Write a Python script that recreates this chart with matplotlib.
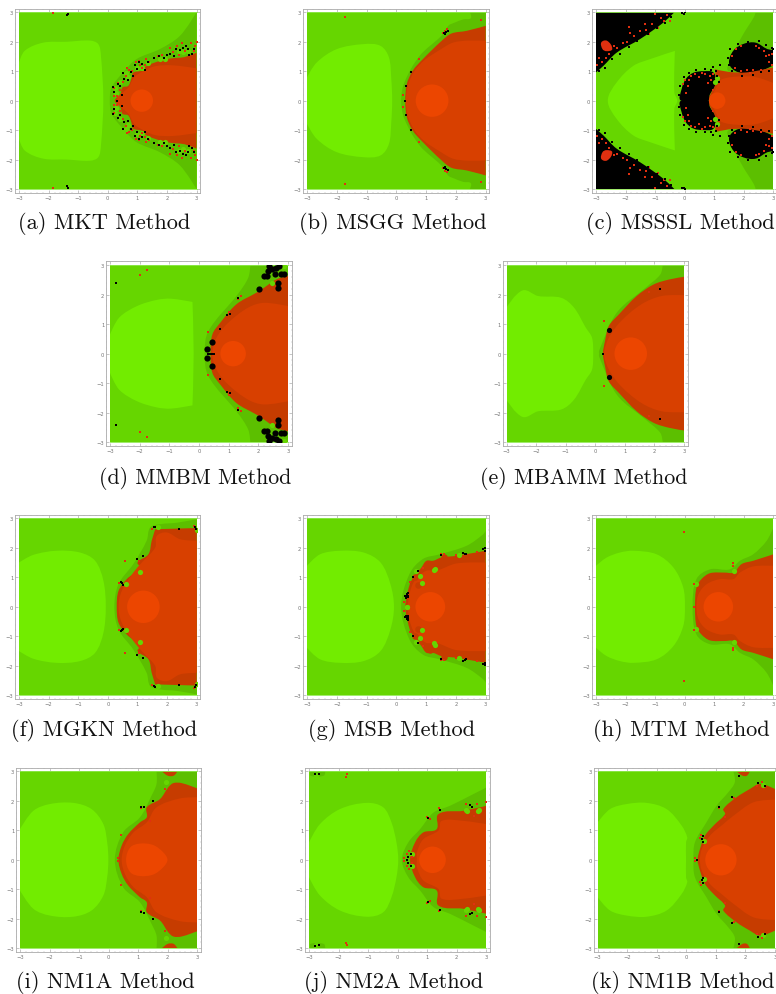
import math
import matplotlib
matplotlib.use("Agg")
import matplotlib.pyplot as plt
from matplotlib.path import Path
from matplotlib.patches import PathPatch, Rectangle

W, H = 776, 995

BRIGHT = "#72ec00"
MID = "#66d600"
DARK = "#5cbf00"
RED_D = "#c63c00"
RED_M = "#d84000"
RED_C = "#ec4600"
SPECK_R = "#e03010"

ticks = [-3, -2, -1, 0, 1, 2, 3]

# (a) MKT
a_bright = [(-3, 0), (-3, 1.3), (-2.8, 1.7), (-2.18, 1.97), (-1.39, 2.0), (-0.6, 2.04), (-0.32, 1.92), (-0.23, 1.52), (-0.15, 0)]
a_dark = [(3, 3), (2.44, 2.2), (1.76, 1.75), (0.97, 1.41), (0.52, 0.96), (0.13, 0.45), (0.07, 0)]
a_red = [(0.24, 0), (0.42, 0.2), (0.5, 0.45), (0.69, 0.5), (0.8, 0.75), (0.86, 0.95), (1.15, 1.02), (1.31, 1.18), (1.76, 1.35), (2.05, 1.42), (2.3, 1.45), (2.6, 1.48), (3, 1.63)]
a_inner = [(0.3, 0), (0.7, 0.45), (0.9, 0.8), (1.2, 1.0), (1.6, 1.17), (2.2, 1.2), (3, 1.1)]
a_core = (1.15, 0.38)
a_black = [(0.3, 0), (0.43, 0.5), (0.22, 0.28), (0.78, 0.97), (0.87, 0.85), (0.55, 0.72), (0.93, 1.2), (1.15, 1.25), (0.98, 1.08), (1.9, 1.45), (2.3, 1.75), (2.7, 1.75), (2.65, 1.85), (2.85, 1.6), (0.47, 0.18), (1.35, 1.3), (2.1, 1.6), (2.45, 1.72),
           (0.18, 0.45), (0.35, 0.58), (0.5, 0.95), (0.7, 0.7), (1.05, 1.3), (1.25, 1.05), (1.55, 1.45), (1.72, 1.52), (2.0, 1.55), (2.25, 1.5), (2.55, 1.8), (2.75, 1.55), (2.9, 1.75), (-1.35, 2.95), (-1.38, 2.9)]
a_specks = [(0.2, 0.42), (0.33, 0.6), (0.6, 0.85), (0.72, 1.05), (1.05, 1.33), (1.3, 1.4), (1.7, 1.5), (2.1, 1.8), (2.5, 1.95), (2.8, 1.95), (3, 2.0), (1.15, 1.1), (0.95, 1.3), (0.3, 0.15), (2.4, 1.55), (2.9, 1.7), (-1.85, 2.97),
            (0.2, 0.15), (0.42, 0.35), (0.5, 0.62), (0.82, 1.0), (1.1, 1.2), (1.4, 1.32), (1.85, 1.55), (2.2, 1.65), (2.35, 1.85), (2.62, 1.7), (2.95, 1.85), (0.65, 1.1), (1.25, 1.22)]
a_lobes = [(0.27, 0.25), (0.25, 0.42), (0.42, 0.62), (0.7, 0.82), (0.62, 0.95), (1.15, 1.1), (1.0, 1.12), (1.35, 1.28), (1.95, 1.42), (1.75, 1.4), (2.55, 1.65), (2.4, 1.7), (2.7, 1.7)]

# (b) MSGG
b_bright = [(-3, 0), (-3, 0.79), (-2.67, 1.3), (-2, 1.75), (-1.1, 1.92), (-0.53, 1.86), (-0.25, 1.47), (-0.17, 0.73), (-0.14, 0)]
b_dark = [(3, 3), (2.47, 3), (2.5, 2.8), (2.25, 2.76), (1.96, 2.65), (1.75, 2.55), (1.51, 2.2), (0.78, 1.52), (0.27, 0.62), (0.16, 0)]
b_red = [(0.3, 0), (0.35, 0.56), (0.55, 1.02), (0.89, 1.41), (1.52, 2.03), (1.85, 2.28), (2.36, 2.37), (3, 2.54)]
b_inner = [(0.32, 0), (0.4, 0.56), (0.62, 1.02), (0.95, 1.38), (1.5, 1.75), (1.9, 1.97), (2.4, 2.04), (3, 2.03)]
b_core = (1.2, 0.55)
b_black = [(0.3, 0), (1.6, 2.3), (1.75, 2.35), (1.62, 2.25), (0.5, 0.98), (0.34, 0.5), (1.68, 2.33)]
b_specks = [(1.7, 2.42), (1.55, 2.3), (2.85, 2.75), (-1.73, 2.83), (0.22, 0.2), (0.75, 1.4), (1.65, 2.38)]
b_lobes = []

# (c) MSSSL
c_bright = [(-2.6, 0), (-2.3, 0.62), (-1.74, 1.18), (-1.17, 1.41), (-0.33, 1.69), (-0.33, 1.69), (-0.35, 0.28), (-0.25, 0)]
c_dark = [(3, 3), (2.4, 3), (2.35, 2.85), (1.95, 2.2), (1.6, 1.5), (1.5, 1.0), (3, 1.0)]
c_red = [(0.83, 0), (0.85, 0.17), (1.02, 0.5), (1.05, 0.75), (1.02, 1.07), (1.02, 1.07), (1.47, 0.98), (2.1, 0.96), (3, 1.13)]
c_inner = [(0.9, 0), (1.1, 0.5), (1.25, 0.72), (1.8, 0.82), (2.4, 0.8), (3, 0.6)]
c_core = (1.1, 0.28)
c_corner = [(-3, 3), (-0.35, 3), (-0.72, 2.65), (-1.51, 2.09), (-2.3, 1.63), (-2.75, 1.18), (-3, 0.96)]
c_blob_l = [(-0.12, 0), (-0.1, 0.4), (0.05, 0.75), (0.3, 0.95), (0.65, 1.0), (0.98, 0.95), (1.05, 0.55), (0.85, 0.2), (0.82, 0)]
c_blob_r = [(1.5, 1.3), (1.65, 1.7), (2.0, 1.93), (2.4, 1.97), (2.8, 1.75), (3, 1.72), (3, 1.2), (2.8, 1.1), (2.4, 0.95), (2.0, 0.92), (1.65, 1.05)]
c_patch = [(-2.82, 1.98), (-2.62, 2.03), (-2.45, 1.75), (-2.65, 1.68), (-2.78, 1.75)]
c_black = [(0.95, 1.15), (1.2, 1.2), (1.05, 1.02), (3, 1.75), (1.5, 1.2),
           (-0.18, 0.2), (-0.16, 0.5), (-0.02, 0.82), (0.15, 0.95), (0.4, 1.05), (0.7, 1.08), (0.88, 1.05), (1.1, 0.85), (1.15, 0.65),
           (1.48, 1.45), (1.55, 1.75), (1.8, 1.92), (2.15, 2.0), (2.5, 2.02), (2.75, 1.88), (2.95, 1.78), (1.6, 1.0), (1.95, 0.85), (2.3, 0.88), (2.6, 0.98), (2.85, 1.02),
           (-2.9, 1.0), (-2.7, 1.1), (-2.45, 1.42), (-2.2, 1.6), (-1.9, 1.82), (-1.6, 2.02), (-1.25, 2.25), (-0.95, 2.48), (-0.65, 2.65), (-0.45, 2.85), (-0.1, 2.97), (-0.02, 2.95), (0, 3)]
c_specks = [(-2.9, 1.45), (-2.8, 1.3), (-2.65, 1.45), (-2.55, 1.6), (-2.3, 1.8), (-2.1, 1.95), (-1.95, 2.0), (-1.7, 2.2), (-1.5, 2.35), (-1.35, 2.6), (-1.1, 2.6), (-0.8, 2.8), (-0.6, 2.9), (-1.9, 2.5), (-0.7, 2.7), (-1.3, 2.4), (-1.85, 2.3), (-2.95, 1.2), (-1.0, 2.95), (-0.5, 2.7), (-2.4, 1.85), (-1.2, 2.25), (-0.9, 2.45),
            (0.1, 0.5), (0.2, 0.85), (0.5, 0.8), (0.7, 0.9), (0.8, 0.6), (0.95, 0.35), (0.05, 0.25), (-0.05, 0.55), (0.35, 0.9), (0.85, 0.85), (0.0, 0.7), (0.15, 0.7), (0.9, 0.7), (0.6, 0.95), (0.95, 0.9),
            (1.6, 1.5), (1.7, 1.1), (1.9, 1.0), (2.2, 0.95), (2.6, 1.05), (2.85, 1.3), (2.95, 1.6), (2.7, 1.7), (2.4, 1.85), (1.9, 1.85), (2.95, 1.2), (2.75, 1.5), (2.1, 1.05), (2.3, 1.03), (2.5, 1.8), (1.75, 1.75), (2.85, 1.55)]
c_lobes = [(1.02, 0.62), (1.08, 0.78)]

# (d) MMBM
d_bright = [(-3, 0), (-3, 0.65), (-2.69, 1.22), (-2.09, 1.61), (-1.42, 1.82), (-0.95, 1.86), (-0.22, 1.75), (-0.22, 1.75), (-0.18, 0)]
d_dark = [(3, 3), (1.73, 3), (1.66, 2.57), (1.3, 2.0), (0.32, 0.77), (0.19, 0)]
d_red = [(0.39, 0), (0.45, 0.65), (0.72, 1.05), (1.26, 1.67), (1.93, 2.06), (2.19, 2.23), (2.6, 2.51), (3, 2.63)]
d_inner = [(0.45, 0), (0.59, 0.54), (0.99, 1.05), (1.66, 1.56), (2.19, 1.72), (3, 1.61)]
d_core = (1.15, 0.43)
d_big = [(2.19, 2.63), (2.6, 2.9), (2.75, 2.7), (2.66, 2.23), (2.66, 2.4), (2.33, 2.8), (2.86, 2.68), (2.02, 2.18), (2.35, 2.95), (2.7, 2.95), (0.45, 0.41), (0.28, 0.15), (2.45, 2.85), (2.55, 2.7), (2.3, 2.62)]
d_black = [(1.32, 1.9), (1.06, 1.33), (0.72, 0.85), (-2.8, 2.4), (0.3, 0), (0.35, 0), (0.4, 0), (0.45, 0), (0.5, 0), (0.95, 1.3)]
d_specks = [(-1.75, 2.83), (1.3, 1.85), (1.4, 1.95), (1.0, 1.4), (0.3, 0.72), (-2.0, 2.65)]
d_lobes = [(2.45, 2.4), (2.85, 2.95), (2.5, 2.75)]

# (e) MBAMM
e_bright = [(-3, 0), (-3, 1.56), (-2.46, 2.14), (-1.93, 1.95), (-1.15, 1.89), (-0.72, 1.56), (-0.32, 0.88), (-0.11, 0.54), (-0.07, 0)]
e_dark = [(3, 3), (2.28, 3), (2.2, 2.68), (1.7, 2.23), (0.73, 1.39), (0.13, 0.1), (0.13, 0)]
e_red = [(0.26, 0), (0.33, 0.43), (0.46, 0.94), (0.8, 1.33), (1.4, 1.95), (1.97, 2.34), (2.5, 2.51), (3, 2.6)]
e_inner = [(0.3, 0), (0.46, 0.54), (0.87, 1.1), (1.56, 1.67), (2.24, 1.95), (3, 1.98)]
e_core = (1.2, 0.55)
e_big = [(0.46, 0.79)]
e_black = [(0.26, 0), (2.2, 2.2)]
e_specks = [(1.8, 2.1), (0.3, 1.1)]
e_lobes = []

# (f) MGKN
f_bright = [(-3, 0), (-3, 1.5), (-2.52, 1.76), (-1.73, 1.9), (-0.94, 1.84), (-0.43, 1.56), (-0.15, 0.88), (-0.07, 0)]
f_dark = [(3, 2.97), (2.33, 2.85), (1.76, 2.8), (1.43, 2.69), (1.31, 2.24), (0.86, 1.45), (0.36, 0.77), (0.22, 0)]
f_red = [(0.3, 0), (0.36, 0.54), (0.64, 0.94), (1.09, 1.33), (1.0, 1.5), (1.37, 1.78), (1.48, 2.24), (1.6, 2.63), (1.6, 2.63), (3, 2.67)]
f_inner = [(0.36, 0), (0.47, 0.54), (0.86, 1.16), (1.2, 1.56), (1.6, 2.01), (1.65, 2.4), (1.99, 2.52), (2.44, 2.29), (3, 2.24)]
f_core = (1.2, 0.55)
f_black = [(1.57, 2.69), (2.94, 2.71), (0.47, 0.79), (1.0, 1.62), (1.2, 1.72), (2.4, 2.65), (0.5, 0.75), (1.6, 2.72), (2.98, 2.65), (0.45, 0.83)]
f_specks = [(0.58, 1.56), (0.38, 0.8), (1.05, 1.55), (1.5, 2.65), (2.9, 2.75)]
f_lobes = [(1.09, 1.19), (0.6, 0.77), (3, 2.6), (1.68, 2.7)]

# (g) MSB
g_bright = [(-3, 0), (-3, 1.39), (-2.56, 1.78), (-1.88, 1.9), (-1.1, 1.84), (-0.53, 1.5), (-0.2, 0.77), (-0.08, 0)]
g_dark = [(3, 2.58), (2.92, 2.46), (2.36, 2.07), (1.46, 1.78), (0.89, 1.62), (0.44, 1.11), (0.16, 0)]
g_red = [(0.3, 0), (0.39, 0.54), (0.5, 0.88), (0.84, 1.33), (1.01, 1.56), (1.23, 1.56), (1.51, 1.67), (2.02, 1.73), (3, 1.9)]
g_inner = [(0.39, 0), (0.44, 0.43), (0.61, 0.88), (1.0, 1.22), (1.34, 1.22), (2.02, 1.47), (3, 1.5)]
g_core = (1.14, 0.5)
g_black = [(0.3, 0.36), (0.35, 0.42), (0.4, 0.38), (0.33, 0.3), (0.38, 0.46), (0.32, 0.35), (0.38, 0.32), (2.3, 1.8), (2.35, 1.78), (2.25, 1.83), (2.92, 1.95), (2.96, 1.98), (2.98, 1.9), (1.5, 1.76), (0.55, 1.0), (0.72, 1.22)]
g_specks = [(1.5, 1.8), (0.9, 1.32), (1.6, 1.8), (2.7, 1.85), (0.45, 0.85), (2.0, 1.75), (0.25, 0.15)]
g_lobes = [(1.3, 1.28), (1.25, 1.24), (0.87, 0.79), (0.8, 1.05), (0.35, 0), (0.65, 1.2), (2.1, 1.75)]
g_bumps = [(1.12, 1.45), (1.05, 1.4), (0.61, 1.0), (1.6, 1.7), (0.72, 0.75)]

# (h) MTM
h_bright = [(-3, 0), (-3, 1.39), (-2.64, 1.67), (-2.19, 1.84), (-1.74, 1.9), (-0.95, 1.78), (-0.38, 1.33), (-0.05, 0.66), (0.01, 0)]
h_dark = [(3, 2.68), (2.77, 2.23), (2.32, 1.78), (1.87, 1.56), (1.53, 1.27), (0.86, 1.27), (0.4, 0.94), (0.27, 0)]
h_red = [(0.35, 0), (0.4, 0.66), (0.57, 0.94), (0.86, 1.14), (1.36, 1.16), (1.65, 1.16), (1.93, 1.45), (2.32, 1.56), (3, 1.78)]
h_inner = [(0.4, 0), (0.47, 0.43), (0.75, 0.77), (1.2, 0.94), (1.65, 0.94), (1.87, 1.16), (2.32, 1.37), (3, 1.39)]
h_core = (1.14, 0.5)
h_black = []
h_specks = [(-0.02, 2.52), (1.62, 1.47), (0.33, 0.77), (0.32, 0), (1.62, 1.4)]
h_lobes = [(1.67, 1.2), (0.4, 0.76)]

# (i) NM1A
i_bright = [(-3, 0), (-3, 1.04), (-2.55, 1.66), (-1.99, 1.89), (-1.2, 1.93), (-0.58, 1.72), (-0.18, 1.21), (-0.05, 0.59), (-0.01, 0)]
i_dark = [(3, 3), (1.62, 3), (1.62, 2.57), (1.45, 2.17), (1.06, 1.44), (0.49, 0.93), (0.21, 0)]
i_red = [(0.33, 0), (0.44, 0.48), (0.66, 0.87), (1.06, 1.27), (1.29, 1.44), (1.29, 1.78), (1.74, 2.06), (2.02, 2.46), (2.19, 2.6), (2.47, 2.6), (3, 2.42)]
i_inner = [(0.44, 0), (0.55, 0.48), (0.84, 0.93), (1.29, 1.27), (1.62, 1.78), (2.41, 2.08), (3, 2.12)]
i_core = [(0.59, 0), (0.73, 0.42), (1.06, 0.55), (1.51, 0.5), (1.85, 0.25), (1.99, 0)]
i_cap = [(1.8, 3), (2.0, 2.85), (2.2, 2.85), (2.33, 3)]
i_black = [(1.11, 1.78), (1.18, 1.8), (1.5, 2.0)]
i_specks = [(1.08, 1.75), (0.42, 0.85), (0.3, 0.05), (1.9, 2.4), (1.4, 1.3)]
i_lobes = [(1.95, 2.65)]

# (j) NM2A
j_bright = [(-3, 0), (-3, 0.59), (-2.63, 1.21), (-1.95, 1.72), (-1.05, 1.93), (-0.49, 1.78), (-0.21, 1.27), (-0.04, 0.59), (0.02, 0)]
j_dark = [(3, 2.45), (2.45, 2.17), (1.77, 1.83), (1.21, 1.6), (0.76, 1.04), (0.36, 0.59), (0.14, 0)]
j_red = [(0.42, 0), (0.59, 0.59), (0.87, 0.93), (1.32, 1.04), (1.38, 1.55), (2.22, 1.66), (3, 1.83)]
j_inner = [(0.65, 0), (0.65, 0.25), (0.87, 0.7), (1.38, 0.99), (1.49, 1.32), (2.22, 1.32), (3, 1.21)]
j_core = (1.18, 0.45)
j_cap = [(-2.95, 3), (-2.95, 2.85), (-2.5, 2.85), (-2.45, 3)]
j_black = [(0.31, 0), (0.35, 0.1), (0.45, 0.2), (1.04, 1.43), (1.43, 1.69), (2.45, 1.85), (-2.8, 2.92), (-2.65, 2.9), (2.5, 1.8)]
j_specks = [(1.1, 1.4), (0.2, 0.05), (0.3, 0.2), (0.5, 0.1), (1.0, 1.45), (1.4, 1.75), (2.3, 1.9), (2.7, 1.9), (3, 1.95), (-1.73, 2.9), (-1.75, 2.82), (2.6, 1.5), (0.4, 0.3)]
j_lobes = [(2.34, 1.66), (2.73, 1.66), (0.47, 0.2), (2.3, 1.7), (2.75, 1.7), (-2.75, 2.88)]

# (k) NM1B
k_bright = [(-3, 0), (-3, 1.27), (-2.58, 1.72), (-2.02, 1.89), (-1.35, 1.93), (-0.67, 1.72), (-0.16, 1.16), (0.03, 0.76), (-0.01, 0.6), (-0.01, 0)]
k_dark = [(3, 3), (1.59, 3), (1.64, 2.63), (1.42, 2.29), (1.02, 1.83), (0.68, 1.27), (0.29, 0.59), (0.24, 0)]
k_red = [(0.38, 0), (0.46, 0.36), (0.63, 0.82), (0.97, 1.21), (1.31, 1.55), (1.25, 1.72), (1.7, 2.12), (2.15, 2.4), (2.49, 2.57), (3, 2.4)]
k_inner = [(0.46, 0), (0.52, 0.36), (0.8, 0.82), (1.25, 1.21), (1.59, 1.49), (2.27, 1.95), (3, 2.04)]
k_core = (1.17, 0.53)
k_cap = [(1.7, 3), (1.9, 2.85), (2.05, 2.85), (2.15, 3)]
k_black = [(0.52, 0.7), (0.55, 0.8), (0.35, 0), (1.12, 1.78), (1.55, 2.13), (2.43, 2.61), (2.65, 2.5), (1.78, 2.85), (0.55, 0.6)]
k_specks = [(0.5, 0.85), (0.3, 0.05), (1.1, 1.75), (1.6, 2.1), (2.4, 2.5), (2.55, 2.65), (0.45, 0.75), (1.3, 1.45)]
k_lobes = [(0.6, 0.65), (2.6, 2.55)]

panels = [
    dict(cap="(a) MKT Method", box=(19, 196.5, 13.3, 190), capxy=(104.5, 224), bright=a_bright, dark=a_dark, red=a_red, inner=a_inner, core=a_core, black=a_black, specks=a_specks, lobes=a_lobes),
    dict(cap="(b) MSGG Method", box=(307, 485.7, 13.3, 190), capxy=(393, 224), bright=b_bright, dark=b_dark, red=b_red, inner=b_inner, core=b_core, black=b_black, specks=b_specks, lobes=b_lobes),
    dict(cap="(c) MSSSL Method", box=(596, 773.3, 13.3, 190), capxy=(680.5, 224), bright=c_bright, dark=c_dark, red=c_red, inner=c_inner, core=c_core, black=c_black, specks=c_specks, lobes=c_lobes, shapes=[(c_corner, "black"), (c_patch, SPECK_R), (c_blob_l, "black"), (c_blob_r, "black")]),
    dict(cap="(d) MMBM Method", box=(110, 288, 266, 443.3), capxy=(195, 478), capsize=15.7, bright=d_bright, dark=d_dark, red=d_red, inner=d_inner, core=d_core, black=d_black, big=d_big, bigsize=20, specks=d_specks, lobes=d_lobes),
    dict(cap="(e) MBAMM Method", box=(506.5, 684, 266, 443.3), capxy=(584, 478), capsize=15.8, bright=e_bright, dark=e_dark, red=e_red, inner=e_inner, core=e_core, black=e_black, big=e_big, bigsize=14, specks=e_specks, lobes=e_lobes),
    dict(cap="(f) MGKN Method", box=(19, 196.7, 519.3, 696.3), capxy=(104, 731), bright=f_bright, dark=f_dark, red=f_red, inner=f_inner, core=f_core, black=f_black, specks=f_specks, lobes=f_lobes),
    dict(cap="(g) MSB Method", box=(307, 485.7, 519.3, 696.3), capxy=(392, 731), bright=g_bright, dark=g_dark, red=g_red, inner=g_inner, core=g_core, black=g_black, specks=g_specks, lobes=g_lobes, bumps=g_bumps),
    dict(cap="(h) MTM Method", box=(596, 773.3, 519.3, 696.3), capxy=(681, 731), bright=h_bright, dark=h_dark, red=h_red, inner=h_inner, core=h_core, black=h_black, specks=h_specks, lobes=h_lobes),
    dict(cap="(i) NM1A Method", box=(20, 197.3, 772.3, 949.3), capxy=(105, 983), bright=i_bright, dark=i_dark, red=i_red, inner=i_inner, core=i_core, black=i_black, specks=i_specks, lobes=i_lobes, shapes=[(i_cap, RED_D)]),
    dict(cap="(j) NM2A Method", box=(309, 486.3, 772.3, 949.3), capxy=(394, 983), bright=j_bright, dark=j_dark, red=j_red, inner=j_inner, core=j_core, black=j_black, specks=j_specks, lobes=j_lobes, shapes=[(j_cap, DARK)]),
    dict(cap="(k) NM1B Method", box=(597.7, 775, 772.3, 949.3), capxy=(683, 983), bright=k_bright, dark=k_dark, red=k_red, inner=k_inner, core=k_core, black=k_black, specks=k_specks, lobes=k_lobes, shapes=[(k_cap, RED_D)]),
]


def sym(pts):
    # upper half plus its mirror gives the closed outline, points on y=0 only once
    return pts + [(x, -y) for x, y in reversed(pts) if y != 0]


def handle(prev, cur, nxt):
    # unit tangent at a point; points on the square's edge stay sharp corners
    if abs(cur[0]) == 3 or abs(cur[1]) == 3 or cur == prev or cur == nxt:
        return (0, 0)
    dx, dy = nxt[0] - prev[0], nxt[1] - prev[1]
    d = math.hypot(dx, dy) or 1
    return (dx / d, dy / d)


def outline(pts):
    # closed bezier through the read points, so the regions are not faceted
    n = len(pts)
    verts = [pts[0]]
    codes = [Path.MOVETO]
    for i in range(n):
        p0, p1, p2, p3 = pts[i - 1], pts[i], pts[(i + 1) % n], pts[(i + 2) % n]
        seg = math.hypot(p2[0] - p1[0], p2[1] - p1[1]) / 3
        t1 = handle(p0, p1, p2)
        t2 = handle(p1, p2, p3)
        verts.append((p1[0] + t1[0] * seg, p1[1] + t1[1] * seg))
        verts.append((p2[0] - t2[0] * seg, p2[1] - t2[1] * seg))
        verts.append(p2)
        codes += [Path.CURVE4] * 3
    return Path(verts, codes)


def fill(ax, pts, color, clip):
    patch = PathPatch(outline(pts), facecolor=color, lw=0)
    ax.add_patch(patch)
    patch.set_clip_path(clip)


def dots(ax, pts, color, size, clip, marker="s"):
    if not pts:
        return
    xs = [p[0] for p in pts] + [p[0] for p in pts]
    ys = [p[1] for p in pts] + [-p[1] for p in pts]
    sc = ax.scatter(xs, ys, s=size, c=color, marker=marker, linewidths=0, zorder=5)
    sc.set_clip_path(clip)


fig = plt.figure(figsize=(W / 100, H / 100), dpi=100)

for p in panels:
    x0, x1, y0, y1 = p["box"]
    # 2% padding round the data square, as in the original frames
    padx = (x1 - x0) * 0.02
    pady = (y1 - y0) * 0.02
    ax = fig.add_axes([(x0 - padx) / W, 1 - (y1 + pady) / H, (x1 - x0 + 2 * padx) / W, (y1 - y0 + 2 * pady) / H])
    ax.set_xlim(-3.12, 3.12)
    ax.set_ylim(-3.12, 3.12)
    clip = Rectangle((-3, -3), 6, 6, transform=ax.transData)

    ax.add_patch(Rectangle((-3, -3), 6, 6, facecolor=MID, lw=0))
    fill(ax, sym(p["dark"]), DARK, clip)
    fill(ax, sym(p["bright"]), BRIGHT, clip)
    for shape, col in p.get("shapes", []):
        fill(ax, shape, col, clip)
        fill(ax, [(x, -y) for x, y in shape], col, clip)
    fill(ax, sym(p["red"]), RED_D, clip)
    dots(ax, p.get("bumps", []), RED_D, 22, clip, "o")
    fill(ax, sym(p["inner"]), RED_M, clip)
    if isinstance(p["core"], tuple):
        ax.add_patch(plt.Circle((p["core"][0], 0), p["core"][1], color=RED_C, lw=0))
    else:
        fill(ax, sym(p["core"]), RED_C, clip)

    dots(ax, p["lobes"], MID, 14, clip, "o")
    dots(ax, p["specks"], SPECK_R, 3.5, clip)
    dots(ax, p["black"], "black", 3.5, clip)
    dots(ax, p.get("big", []), "black", p.get("bigsize", 20), clip, "o")

    ax.plot([-3, 3], [3, 3], color="#8fe850", lw=0.6)
    ax.plot([-3, 3], [-3, -3], color="#8fe850", lw=0.6)

    ax.set_xticks(ticks)
    ax.set_yticks(ticks)
    ax.set_xticks([t / 5 for t in range(-15, 16)], minor=True)
    ax.set_yticks([t / 5 for t in range(-15, 16)], minor=True)
    ax.tick_params(which="major", direction="in", top=True, right=True, length=2, width=0.4, color="#999999",
                   labelsize=3.8, labelcolor="#777777", pad=1.5)
    ax.tick_params(which="minor", direction="in", top=True, right=True, length=1, width=0.3, color="#aaaaaa")
    for s in ax.spines.values():
        s.set_color("#aaaaaa")
        s.set_linewidth(0.6)

    fig.text(p["capxy"][0] / W, 1 - p["capxy"][1] / H, p["cap"], family="cmr10", fontsize=p.get("capsize", 16.1),
             ha="center", va="center", color="#111111")

fig.savefig("out.png", dpi=100)
